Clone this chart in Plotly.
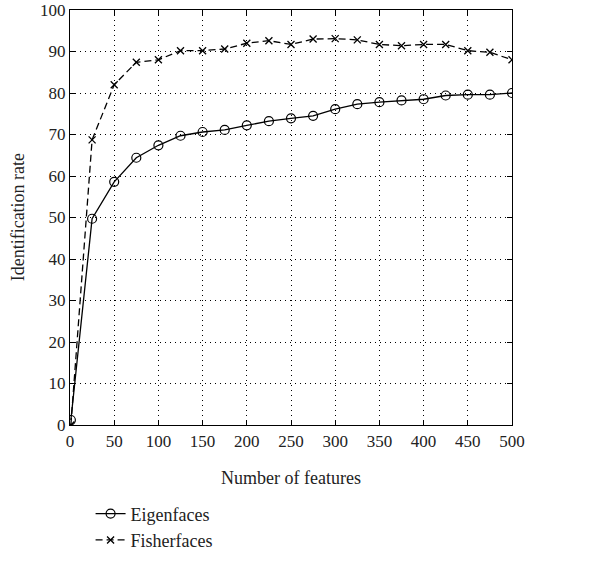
import plotly.graph_objects as go

features = [1, 25, 50, 75, 100, 125, 150, 175, 200, 225, 250, 275, 300, 325, 350, 375, 400, 425, 450, 475, 500]
eigenfaces = [1.2, 49.7, 58.6, 64.4, 67.4, 69.7, 70.6, 71.1, 72.2, 73.2, 73.9, 74.5, 76.1, 77.3, 77.8, 78.2, 78.5, 79.4, 79.6, 79.6, 80.0]
fisherfaces = [0.0, 68.7, 82.0, 87.4, 88.0, 90.2, 90.2, 90.6, 92.0, 92.6, 91.7, 93.0, 93.1, 92.8, 91.7, 91.4, 91.7, 91.7, 90.2, 89.8, 88.0]

x_ticks = list(range(0, 501, 50))
y_ticks = list(range(0, 101, 10))

x_title = "Number of features"
y_title = "Identification rate"

FONT = "Liberation Serif"
TXT = "#222222"

fig = go.Figure()
fig.add_trace(go.Scatter(
    x=features, y=eigenfaces, name="Eigenfaces", mode="lines+markers",
    line=dict(color="black", width=1.3),
    marker=dict(symbol="circle-open", size=9, color="black", line=dict(width=1.2)),
))
fig.add_trace(go.Scatter(
    x=features, y=fisherfaces, name="Fisherfaces", mode="lines+markers",
    line=dict(color="black", width=1.3, dash="7px,4px"),
    marker=dict(symbol="x-thin-open", size=7, color="black", line=dict(width=1.3)),
))

axis_common = dict(
    showline=True, linecolor="black", linewidth=1.3, mirror="ticks",
    ticks="inside", ticklen=5, tickcolor="black", tickwidth=1.2,
    showgrid=True, gridcolor="black", griddash="1px,4px", gridwidth=1,
    zeroline=False, automargin=True,
    tickfont=dict(family=FONT, size=17, color=TXT),
)

fig.update_xaxes(range=[0, 500], tickvals=x_ticks, ticktext=[str(v) for v in x_ticks],
                 title=dict(text=x_title, font=dict(family=FONT, size=18, color=TXT), standoff=21),
                 **axis_common)
fig.update_yaxes(range=[0, 100], tickvals=y_ticks, ticktext=[str(v) for v in y_ticks],
                 **axis_common)

fig.add_annotation(
    text=y_title, textangle=-90, xref="paper", yref="paper",
    x=-0.118, y=0.5, xanchor="center", yanchor="middle", showarrow=False,
    font=dict(family=FONT, size=18, color=TXT),
)

fig.update_layout(
    width=612, height=561,
    margin=dict(l=70, r=100, t=10, b=136, autoexpand=False),
    plot_bgcolor="white", paper_bgcolor="white",
    font=dict(family=FONT, color=TXT),
    legend=dict(xref="container", yref="container", x=0.148, y=0.117,
                xanchor="left", yanchor="top",
                font=dict(family=FONT, size=18, color=TXT),
                bgcolor="rgba(0,0,0,0)", tracegroupgap=0, itemwidth=30),
    showlegend=True,
)

fig.write_html("out.html", config={"displayModeBar": False},
               post_script="document.body.style.margin='0';document.body.style.padding='0';document.body.style.overflow='hidden';")
